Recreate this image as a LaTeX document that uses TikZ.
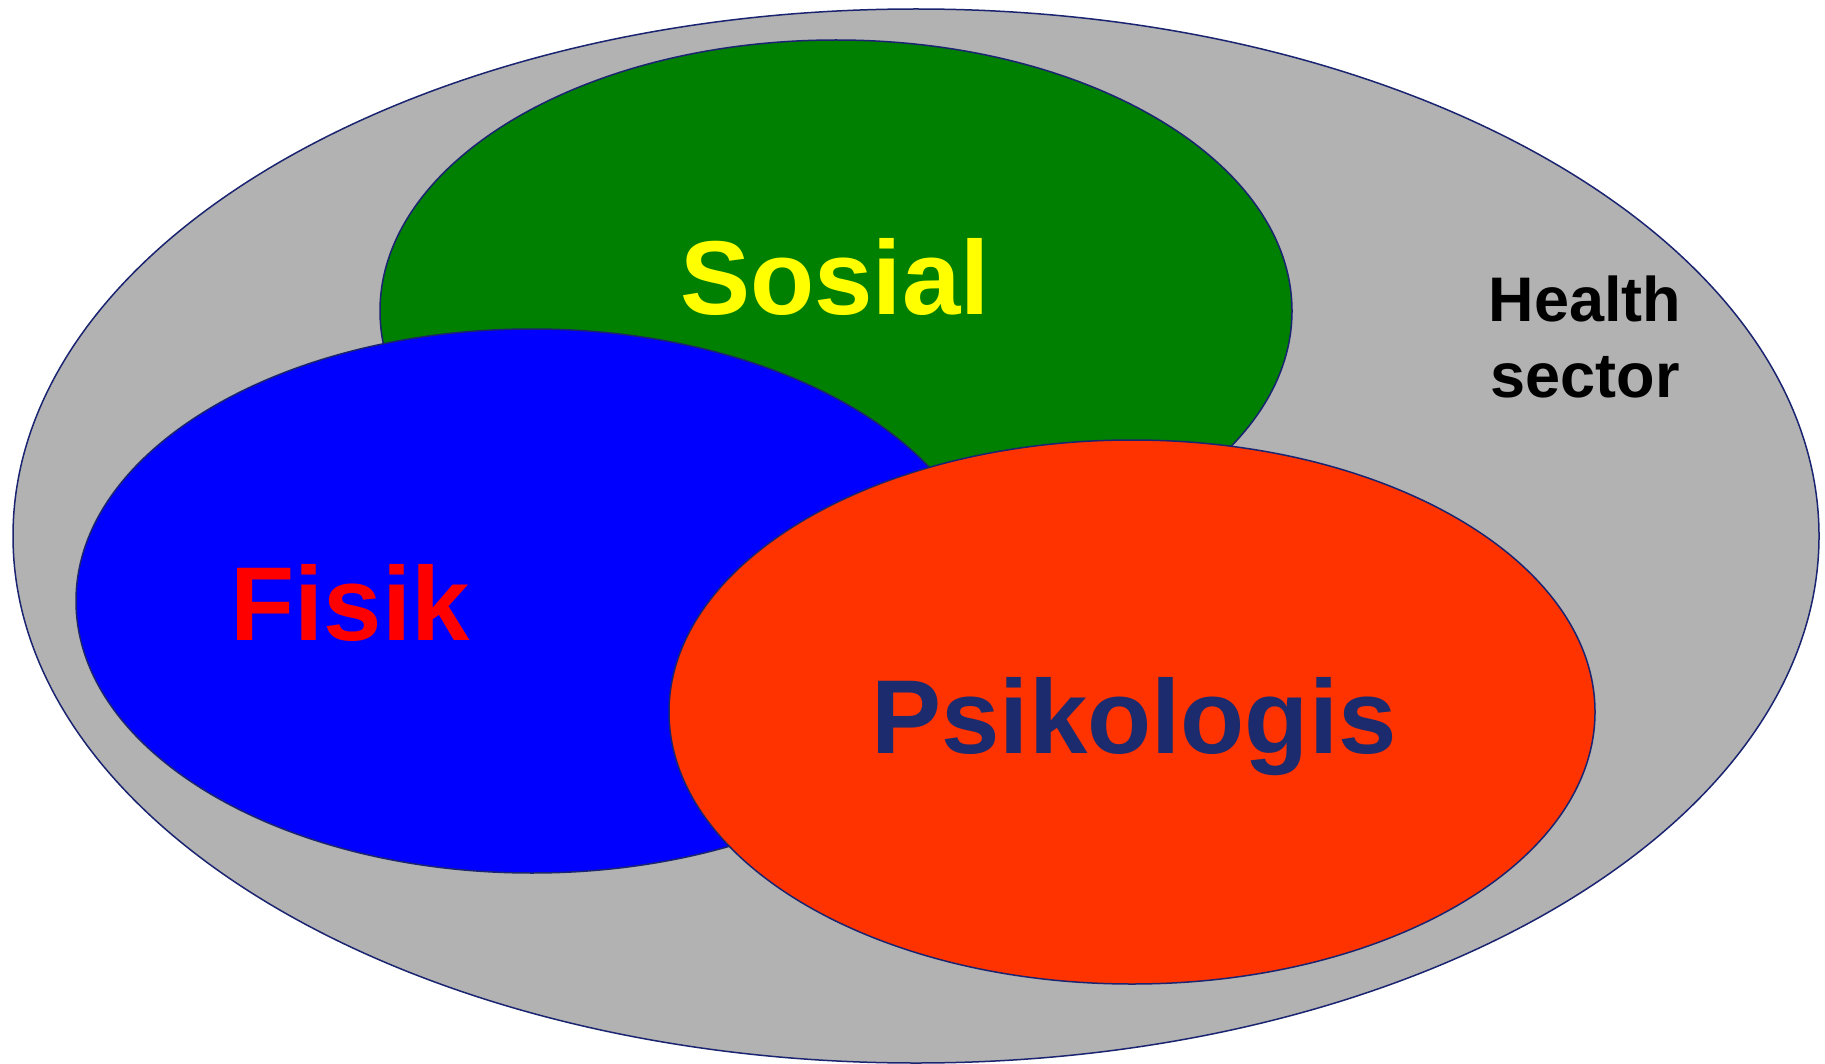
\documentclass[tikz,border=0pt]{standalone}
\usepackage{fontspec}
\setmainfont{Liberation Sans}
\usetikzlibrary{shapes.geometric}
\definecolor{edgeblue}{HTML}{1A2470}
\definecolor{sectorgray}{HTML}{B2B2B2}
\definecolor{socgreen}{HTML}{008000}
\definecolor{physblue}{HTML}{0000FF}
\definecolor{psyred}{HTML}{FF3300}
\definecolor{psytext}{HTML}{1C2A6E}
\definecolor{socyellow}{HTML}{FFFF00}
\definecolor{physred}{HTML}{FF0000}
\tikzset{
  blob/.style={draw=edgeblue, line width=1.5pt},
  bigtext/.style={font=\fontsize{105}{120}\selectfont\bfseries, inner sep=0pt, anchor=base},
  smalltext/.style={font=\fontsize{63}{76}\selectfont\bfseries, inner sep=0pt, align=center}
}
\begin{document}
\begin{tikzpicture}[x=1pt,y=-1pt]
\useasboundingbox (0,0) rectangle (1825,1064);
\draw[blob, fill=sectorgray] (916,536) ellipse [x radius=903, y radius=527];
\draw[blob, fill=socgreen] (836,311) ellipse [x radius=456, y radius=271];
\draw[blob, fill=physblue] (532,601) ellipse [x radius=456, y radius=272];
\draw[blob, fill=psyred] (1132,712) ellipse [x radius=463, y radius=272];
\node[bigtext, text=socyellow] (sosial) at (835,315) {Sosial};
\node[bigtext, text=physred] (fisik) at (350,640) {Fisik};
\node[bigtext, text=psytext] (psiko) at (1134,753) {Psikologis};
\node[smalltext, anchor=base] (health) at (1585,397) {Health\\sector};
\end{tikzpicture}
\end{document}
